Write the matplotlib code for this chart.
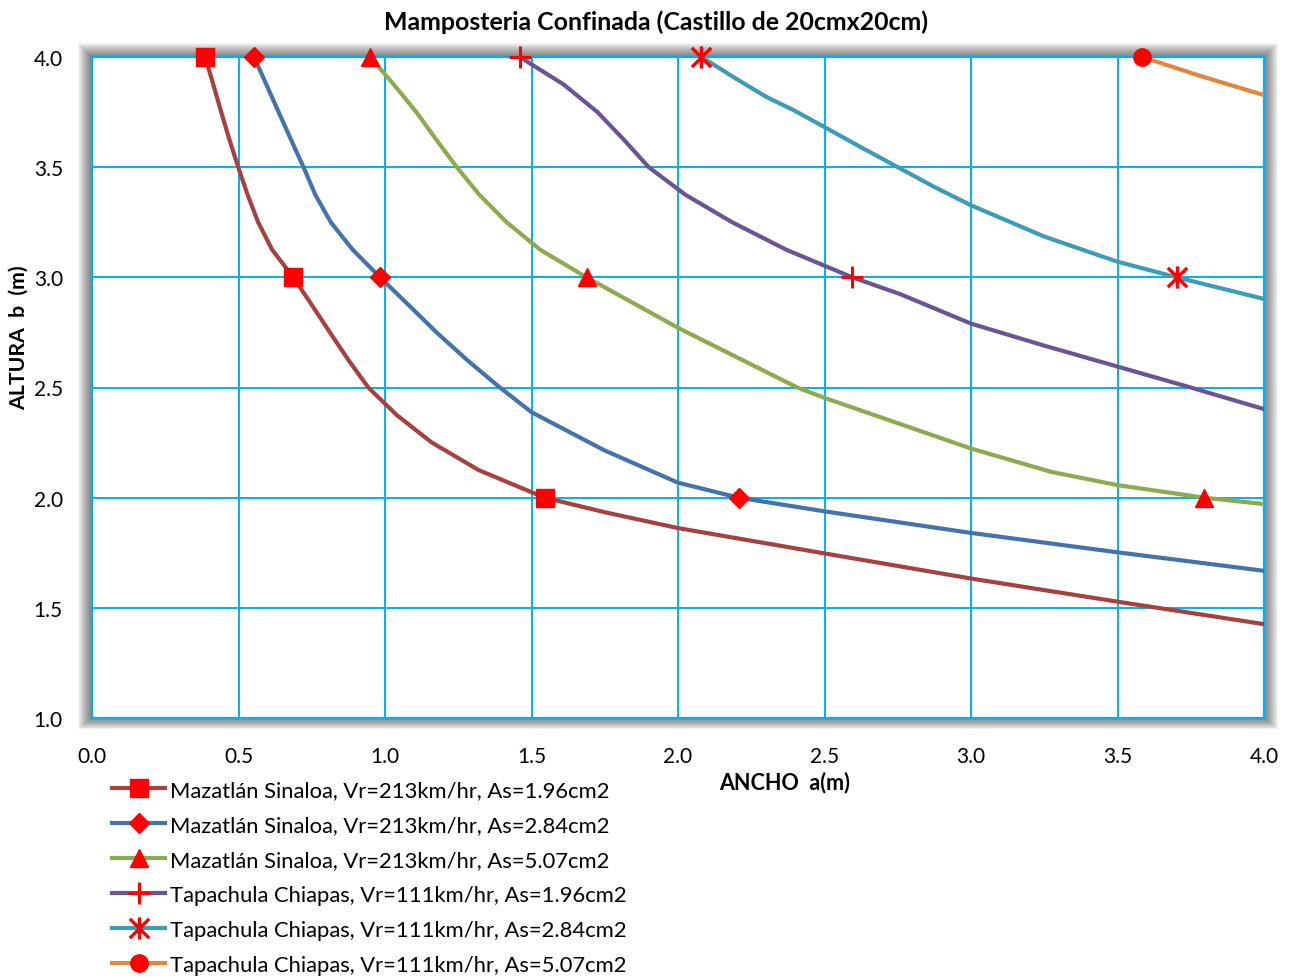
import matplotlib
matplotlib.use("Agg")
import matplotlib.pyplot as plt
from matplotlib.lines import Line2D
from matplotlib.patches import Rectangle
from matplotlib.path import Path

# ---------------- data ----------------
x_ticks = [0.0, 0.5, 1.0, 1.5, 2.0, 2.5, 3.0, 3.5, 4.0]
y_ticks = [1.0, 1.5, 2.0, 2.5, 3.0, 3.5, 4.0]

labels = [
    "Mazatlán Sinaloa, Vr=213km/hr, As=1.96cm2",
    "Mazatlán Sinaloa, Vr=213km/hr, As=2.84cm2",
    "Mazatlán Sinaloa, Vr=213km/hr, As=5.07cm2",
    "Tapachula Chiapas, Vr=111km/hr, As=1.96cm2",
    "Tapachula Chiapas, Vr=111km/hr, As=2.84cm2",
    "Tapachula Chiapas, Vr=111km/hr, As=5.07cm2",
]

# curve traces (ancho a, altura b)
maz196_a = [0.386, 0.414, 0.441, 0.469, 0.499, 0.531, 0.567, 0.615, 0.687, 0.75, 0.812, 0.875, 0.943,
            1.04, 1.16, 1.32, 1.545, 1.75, 2.0, 2.5, 3.0, 3.5, 4.0]
maz196_b = [4.0, 3.875, 3.75, 3.625, 3.5, 3.375, 3.25, 3.125, 3.0, 2.875, 2.75, 2.625, 2.5,
            2.375, 2.25, 2.125, 2.0, 1.934, 1.862, 1.747, 1.633, 1.528, 1.426]

maz284_a = [0.553, 0.591, 0.642, 0.693, 0.722, 0.762, 0.815, 0.89, 0.983, 1.08, 1.176, 1.28, 1.392,
            1.5, 1.75, 2.0, 2.207, 2.5, 3.0, 3.5, 4.0]
maz284_b = [4.0, 3.887, 3.735, 3.584, 3.5, 3.375, 3.25, 3.125, 3.0, 2.875, 2.75, 2.625, 2.5,
            2.388, 2.214, 2.068, 2.0, 1.938, 1.84, 1.752, 1.668]

maz507_a = [0.949, 1.03, 1.107, 1.175, 1.245, 1.322, 1.415, 1.53, 1.688, 2.0, 2.407, 2.5,
            3.0, 3.274, 3.5, 3.795, 4.0]
maz507_b = [4.0, 3.875, 3.75, 3.625, 3.5, 3.375, 3.25, 3.125, 3.0, 2.771, 2.5, 2.453,
            2.223, 2.117, 2.057, 2.0, 1.971]

tap196_a = [1.46, 1.61, 1.725, 1.815, 1.9, 2.025, 2.185, 2.37, 2.595, 2.758, 3.0,
            3.25, 3.5, 3.75, 4.0]
tap196_b = [4.0, 3.875, 3.75, 3.625, 3.5, 3.375, 3.25, 3.125, 3.0, 2.924, 2.79,
            2.69, 2.595, 2.5, 2.402]

tap284_a = [2.08, 2.2, 2.3, 2.4, 2.5, 2.625, 2.75, 2.875, 3.0, 3.25, 3.5, 3.702, 4.0]
tap284_b = [4.0, 3.9, 3.82, 3.755, 3.682, 3.59, 3.5, 3.41, 3.327, 3.185, 3.071, 3.0, 2.902]

tap507_a = [3.585, 3.78, 4.0]
tap507_b = [4.0, 3.915, 3.827]

# marked points
maz196_ma = [0.386, 0.687, 1.545]; maz196_mb = [4.0, 3.0, 2.0]
maz284_ma = [0.553, 0.983, 2.207]; maz284_mb = [4.0, 3.0, 2.0]
maz507_ma = [0.949, 1.688, 3.795]; maz507_mb = [4.0, 3.0, 2.0]
tap196_ma = [1.46, 2.595];         tap196_mb = [4.0, 3.0]
tap284_ma = [2.08, 3.702];         tap284_mb = [4.0, 3.0]
tap507_ma = [3.585];               tap507_mb = [4.0]

# ---------------- styling ----------------
plt.rcParams['font.family'] = ['Lato', 'DejaVu Sans']

W, H = 1291, 979
fig = plt.figure(figsize=(W / 100, H / 100), dpi=100)
x0, x1, y0, y1 = 92, 1264, 58, 719
ax = fig.add_axes([x0 / W, 1 - y1 / H, (x1 - x0) / W, (y1 - y0) / H])

# soft outer shadow around plot area
for k in range(1, 15):
    fig.add_artist(Rectangle(((x0 - k) / W, 1 - (y1 + k * 0.8) / H),
                             (x1 - x0 + 2 * k) / W, (y1 - y0 + k * 1.8) / H,
                             transform=fig.transFigure, facecolor='black',
                             edgecolor='none', alpha=0.045, zorder=-5))

star = Path([(-1, -1), (1, 1), (-1, 1), (1, -1), (0, -1.15), (0, 1.15)],
            [Path.MOVETO, Path.LINETO, Path.MOVETO, Path.LINETO, Path.MOVETO, Path.LINETO])

line_colors = ['#A5423F', '#4472AB', '#8DAA4F', '#6A5494', '#3D9BB5', '#E0873C']
markers = [dict(marker='s', markersize=12.5),
           dict(marker='D', markersize=10),
           dict(marker='^', markersize=13),
           dict(marker='+', markersize=16, markeredgewidth=2.2),
           dict(marker=star, markersize=16, markeredgewidth=2.4),
           dict(marker='o', markersize=12.5)]

curves = [(maz196_a, maz196_b, maz196_ma, maz196_mb),
          (maz284_a, maz284_b, maz284_ma, maz284_mb),
          (maz507_a, maz507_b, maz507_ma, maz507_mb),
          (tap196_a, tap196_b, tap196_ma, tap196_mb),
          (tap284_a, tap284_b, tap284_ma, tap284_mb),
          (tap507_a, tap507_b, tap507_ma, tap507_mb)]

red = '#FF0000'
handles = []
for (a, b, ma, mb), col, mk in zip(curves, line_colors, markers):
    ax.plot(a, b, color=col, lw=3, solid_joinstyle='round', zorder=3)
    ax.plot(ma, mb, linestyle='none', color=red, markerfacecolor=red,
            markeredgecolor=red, zorder=4, clip_on=False, **mk)
    handles.append(Line2D([], [], color=col, lw=3, markerfacecolor=red,
                          markeredgecolor=red, **mk))

grid_c = '#00B0F0'
ax.set_xlim(0, 4)
ax.set_ylim(1, 4)
ax.set_xticks(x_ticks)
ax.set_yticks(y_ticks)
ax.set_xticklabels([f"{v:.1f}" for v in x_ticks])
ax.set_yticklabels([f"{v:.1f}" for v in y_ticks])
ax.grid(True, color=grid_c, lw=1.4, zorder=1)
ax.set_axisbelow(True)
for s in ax.spines.values():
    s.set_color(grid_c)
    s.set_linewidth(1.6)
ax.tick_params(length=0, labelsize=15, colors='black')
ax.tick_params(axis='x', pad=20)
ax.tick_params(axis='y', pad=21)
ax.set_facecolor('white')

fig.text(656 / W, 1 - 22 / H, "Mamposteria Confinada (Castillo de 20cmx20cm)",
         ha='center', va='center', fontsize=17.9, fontweight='bold')
fig.text(785 / W, 1 - 783 / H, "ANCHO  a(m)", ha='center', va='center',
         fontsize=15.5, fontweight='bold')
fig.text(19 / W, 1 - 338 / H, "ALTURA  b  (m)", ha='center', va='center',
         rotation=90, fontsize=15.3, fontweight='bold')

leg = fig.legend(handles=handles, labels=labels, loc='upper left',
                 bbox_to_anchor=(112 / W, 1 - 781 / H), frameon=False,
                 fontsize=15.8, handlelength=2.42, handletextpad=0.23,
                 labelspacing=0.68, borderpad=0, borderaxespad=0, numpoints=1)

fig.savefig("out.png", dpi=100, facecolor='white')
